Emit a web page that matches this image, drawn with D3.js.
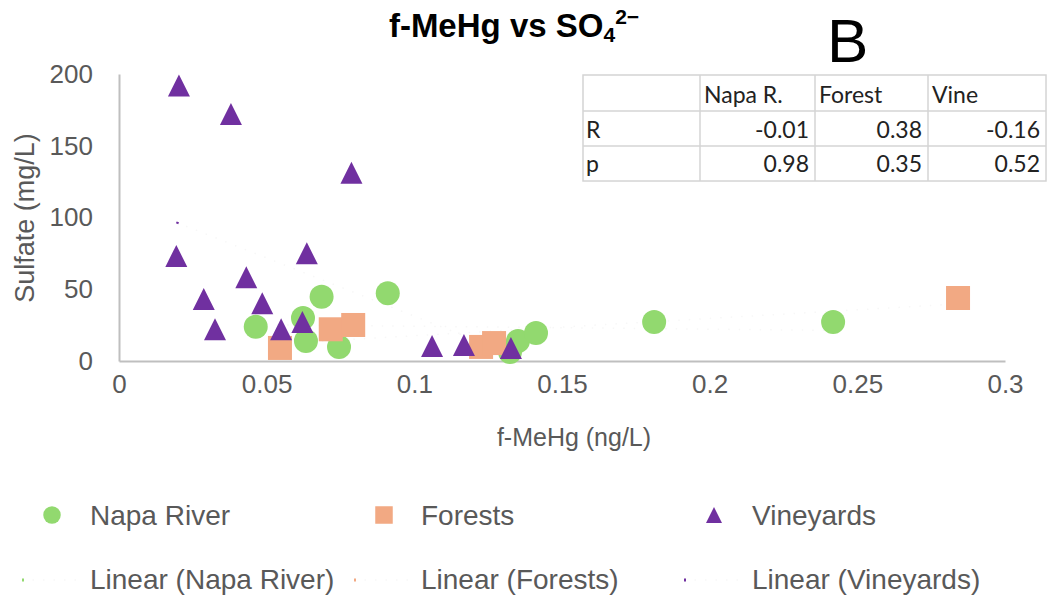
<!DOCTYPE html>
<html><head><meta charset="utf-8">
<script src="https://cdn.jsdelivr.net/npm/d3@7"></script>
<style>
html,body{margin:0;padding:0;background:#fff;}
svg{display:block;font-family:"Liberation Sans",Arial,sans-serif;}
</style></head>
<body>
<svg id="chart" width="1049" height="601"></svg>
<script>
// ---- data ----
const napaX = [0.0463, 0.0623, 0.0633, 0.0686, 0.0745, 0.0910, 0.1324, 0.1351, 0.1412, 0.1812, 0.2418];
const napaY = [23.9, 30.0, 13.9, 44.8, 9.8, 47.2, 6.3, 13.9, 19.5, 27.2, 27.2];
const forestX = [0.0545, 0.0717, 0.0793, 0.1226, 0.1270, 0.2841];
const forestY = [9.1, 22.1, 25.1, 9.8, 12.5, 43.9];
const vineX = [0.0203, 0.0379, 0.0787, 0.0194, 0.0636, 0.0431, 0.0287, 0.0485, 0.0325, 0.0549, 0.0621, 0.1060, 0.1168, 0.1327];
const vineY = [192, 172.1, 131.2, 73.2, 75.1, 58.3, 43.2, 40.2, 22.1, 22.1, 27.2, 10.5, 11.1, 9.1];
const xTicks = [0, 0.05, 0.1, 0.15, 0.2, 0.25, 0.3];
const yTicks = [0, 50, 100, 150, 200];
const seriesNames = ["Napa River", "Forests", "Vineyards"];
const tableCols = ["", "Napa R.", "Forest", "Vine"];
const tableR = ["-0.01", "0.38", "-0.16"];
const tableP = ["0.98", "0.35", "0.52"];

const colors = {"Napa River": "#92d96f", "Forests": "#f2a983", "Vineyards": "#7030a0"};
const FF = "Liberation Sans, Arial, sans-serif";
const svg = d3.select("#chart");

const x = d3.scaleLinear().domain([0, 0.3]).range([119, 1005]);
const y = d3.scaleLinear().domain([0, 200]).range([361, 74]);

// title
const title = svg.append("text").attr("x", 514).attr("y", 37).attr("text-anchor", "middle")
  .attr("font-size", 33).attr("font-weight", "bold").attr("fill", "#000");
title.append("tspan").text("f-MeHg vs SO");
title.append("tspan").attr("font-size", 21).attr("dy", 5).text("4");
title.append("tspan").attr("font-size", 21).attr("dy", -18).text("2\u2212");

svg.append("text").attr("x", 827).attr("y", 62).attr("font-size", 62).attr("fill", "#000").text("B");

// axes
const xAxis = d3.axisBottom(x).tickValues(xTicks).tickSize(0).tickPadding(14).tickFormat(d => String(d));
const gx = svg.append("g").attr("transform", "translate(0,361)").call(xAxis);
gx.attr("font-family", FF);
gx.select(".domain").attr("stroke", "#bfbfbf").attr("stroke-width", 2);
gx.selectAll("text").attr("font-size", 26).attr("fill", "#595959");

const yAxis = d3.axisLeft(y).tickValues(yTicks).tickSize(0).tickPadding(26).tickFormat(d => String(d));
const gy = svg.append("g").attr("transform", "translate(119,0)").call(yAxis);
gy.attr("font-family", FF);
gy.select(".domain").attr("stroke", "#bfbfbf").attr("stroke-width", 2);
gy.selectAll("text").attr("font-size", 26).attr("fill", "#595959");

svg.append("text").attr("x", 574).attr("y", 446).attr("text-anchor", "middle")
  .attr("font-size", 25).attr("fill", "#595959").text("f-MeHg (ng/L)");
svg.append("text").attr("transform", "translate(34,218) rotate(-90)").attr("text-anchor", "middle")
  .attr("font-size", 27).attr("fill", "#595959").text("Sulfate (mg/L)");

// table
const tbl = svg.append("g");
const colEdges = [583, 700, 815, 928, 1046];
const rowEdges = [75, 111, 146, 181];
tbl.append("rect").attr("x", colEdges[0]).attr("y", rowEdges[0])
  .attr("width", colEdges[4] - colEdges[0]).attr("height", rowEdges[3] - rowEdges[0])
  .attr("fill", "#fff").attr("stroke", "#d4d4d4").attr("stroke-width", 1.5);
colEdges.slice(1, 4).forEach(cx => tbl.append("line").attr("x1", cx).attr("x2", cx)
  .attr("y1", rowEdges[0]).attr("y2", rowEdges[3]).attr("stroke", "#d4d4d4").attr("stroke-width", 1.5));
rowEdges.slice(1, 3).forEach(ry => tbl.append("line").attr("y1", ry).attr("y2", ry)
  .attr("x1", colEdges[0]).attr("x2", colEdges[4]).attr("stroke", "#d4d4d4").attr("stroke-width", 1.5));
const tf = "Lato, 'Open Sans', sans-serif";
tableCols.forEach((c, i) => {
  if (!c) return;
  tbl.append("text").attr("x", colEdges[i] + 4).attr("y", 103).attr("font-family", tf)
    .attr("font-size", 23).attr("fill", "#222").text(c);
});
[["R", tableR, 138], ["p", tableP, 172]].forEach(([lab, vals, by]) => {
  tbl.append("text").attr("x", colEdges[0] + 3).attr("y", by).attr("font-family", tf)
    .attr("font-size", 23).attr("fill", "#222").text(lab);
  vals.forEach((v, i) => tbl.append("text").attr("x", colEdges[i + 2] - 6).attr("y", by)
    .attr("text-anchor", "end").attr("font-family", tf).attr("font-size", 23).attr("fill", "#222").text(v));
});

// marks
const sets = [
  {name: "Napa River", xs: napaX, ys: napaY},
  {name: "Forests", xs: forestX, ys: forestY},
  {name: "Vineyards", xs: vineX, ys: vineY}
];

// trendlines (least squares, nearly invisible as in the source)
sets.forEach(s => {
  const pts = s.xs.map((v, i) => [v, s.ys[i]]);
  const mx = d3.mean(pts, p => p[0]), my = d3.mean(pts, p => p[1]);
  const b = d3.sum(pts, p => (p[0] - mx) * (p[1] - my)) / d3.sum(pts, p => (p[0] - mx) ** 2);
  const a = my - b * mx;
  const x0 = d3.min(s.xs), x1 = d3.max(s.xs);
  svg.append("line").attr("x1", x(x0)).attr("y1", y(a + b * x0)).attr("x2", x(x1)).attr("y2", y(a + b * x1))
    .attr("stroke", "#f7f7f7").attr("stroke-width", 1.5).attr("stroke-dasharray", "1.5,9");
  const ang = Math.atan2(y(a + b * x1) - y(a + b * x0), x(x1) - x(x0));
  svg.append("line").attr("x1", x(x0)).attr("y1", y(a + b * x0))
    .attr("x2", x(x0) + 2.5 * Math.cos(ang)).attr("y2", y(a + b * x0) + 2.5 * Math.sin(ang))
    .attr("stroke", colors[s.name]).attr("stroke-width", 2);
});

const tri = r => `M0,${-r}L${r},${r}L${-r},${r}Z`;
function marker(g, name, size) {
  if (name === "Napa River") g.append("circle").attr("r", size / 2).attr("fill", colors[name]);
  else if (name === "Forests") g.append("rect").attr("x", -size / 2).attr("y", -size / 2)
    .attr("width", size).attr("height", size).attr("fill", colors[name]);
  else g.append("path").attr("d", tri(size / 2)).attr("fill", colors[name]);
}
sets.forEach(s => {
  const g = svg.append("g");
  s.xs.forEach((v, i) => {
    const m = g.append("g").attr("transform", `translate(${x(v)},${y(s.ys[i])})`);
    marker(m, s.name, s.name === "Vineyards" ? 22 : 24);
  });
});

// legend
const legX = [52, 384, 714];
const legTextX = [90, 421, 752];
seriesNames.forEach((n, i) => {
  const m = svg.append("g").attr("transform", `translate(${legX[i]},515)`);
  marker(m, n, n === "Vineyards" ? 16 : 17.5);
  svg.append("text").attr("x", legTextX[i]).attr("y", 525).attr("font-size", 28).attr("fill", "#595959").text(n);
  const lx = legX[i] - 30;
  svg.append("line").attr("x1", lx).attr("x2", lx + 58).attr("y1", 580).attr("y2", 580)
    .attr("stroke", "#f7f7f7").attr("stroke-width", 1.5).attr("stroke-dasharray", "1.5,9");
  svg.append("line").attr("x1", lx).attr("x2", lx + 2).attr("y1", 580).attr("y2", 580)
    .attr("stroke", colors[n]).attr("stroke-width", 3);
  svg.append("text").attr("x", legTextX[i]).attr("y", 589).attr("font-size", 28).attr("fill", "#595959").text("Linear (" + n + ")");
});
</script>
</body></html>
